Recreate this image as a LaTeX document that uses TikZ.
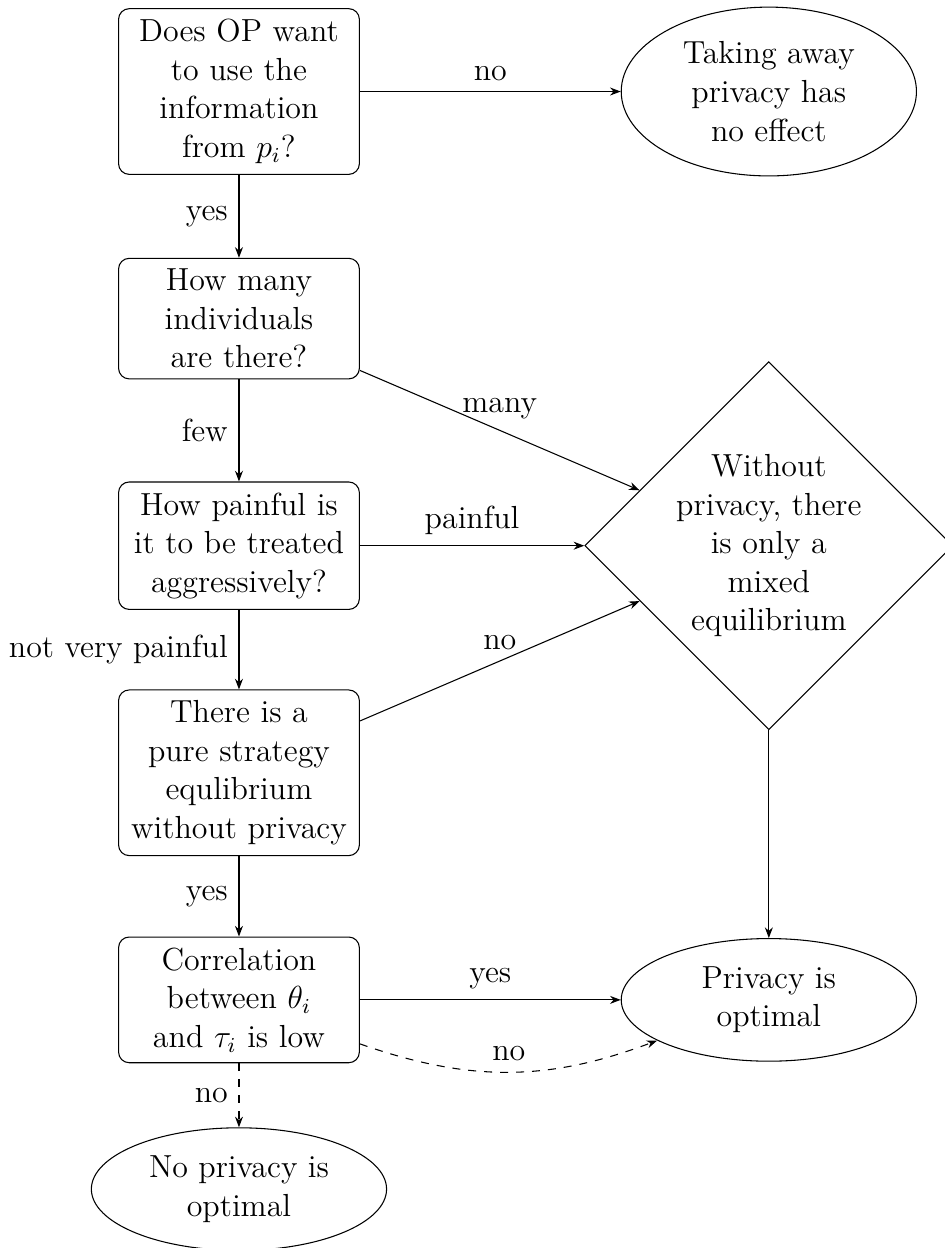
\documentclass[12pt,tikz,border=0pt]{standalone}
\usepackage{tikz}
\usetikzlibrary{arrows.meta, positioning, shapes.geometric}
\tikzset{%
    flow/.style={%
        ->,
        >={Stealth[length=4pt, width=3pt]},
    },
    question/.style={%
        rectangle,
        draw=black,
        rounded corners,
        text width=2.9cm,
        text centered,
    },
    outcome/.style={%
        ellipse,
        draw=black,
        inner sep=0pt,
        minimum width=3.9cm,
        minimum height=1.62cm,
        align=center,
    },
    mixed/.style={%
        diamond,
        aspect=1,
        draw=black,
        inner sep=0pt,
        text width=2.45cm,
        text centered,
    },
}
\begin{document}
\begin{tikzpicture}[node distance=3cm, on grid]
  \useasboundingbox (-3.157, 1.209) rectangle (9.326, -15.278);
  \coordinate (left_side) at (0, 0);
  \coordinate (right_side) at (7, 0);

  \node [question] at (left_side) (q_use) {Does OP want\\ to use the\\ information\\ from $p_i$?};
  \node [question, below=of q_use] (q_many) {How many\\ individuals\\ are there?};
  \node [question, below=of q_many] (q_pain) {How painful is\\ it to be treated\\ aggressively?};
  \node [question, below=of q_pain] (q_pure) {There is a\\ pure strategy\\ equlibrium\\ without privacy};
  \node [question, below=of q_pure] (q_corr) {Correlation\\ between $\theta_i$\\ and $\tau_i$ is low};
  \node [outcome, below=2.5cm of q_corr] (no_priv) {No privacy is\\ optimal};

  \node [outcome, minimum height=2.23cm] at (right_side) (no_effect) {Taking away\\ privacy has\\ no effect};
  \node [mixed, right=7cm of q_pain] (mixed_eq) {Without\\ privacy, there\\ is only a\\ mixed\\ equilibrium};
  \node [outcome, right=7cm of q_corr] (priv_opt) {Privacy is\\ optimal};

  \draw[flow] (q_use) -- node[above] {no} (no_effect);
  \draw[flow] (q_use) -- node[left] {yes} (q_many);
  \draw[flow] (q_many) -- node[above] {many} (mixed_eq);
  \draw[flow] (q_many) -- node[left] {few} (q_pain);
  \draw[flow] (q_pain) -- node[above] {painful} (mixed_eq);
  \draw[flow] (q_pain) -- node[left] {not very painful} (q_pure);
  \draw[flow] (q_pure) -- node[above] {no} (mixed_eq);
  \draw[flow] (q_pure) -- node[left] {yes} (q_corr);
  \draw[flow] (q_corr) -- node[above] {yes} (priv_opt);
  \draw[flow, dashed] (q_corr) to[bend right=20] node[above] {no} (priv_opt);
  \draw[flow, dashed] (q_corr) -- node[left] {no} (no_priv);
  \draw[flow] (mixed_eq) -- (priv_opt);
\end{tikzpicture}
\end{document}
